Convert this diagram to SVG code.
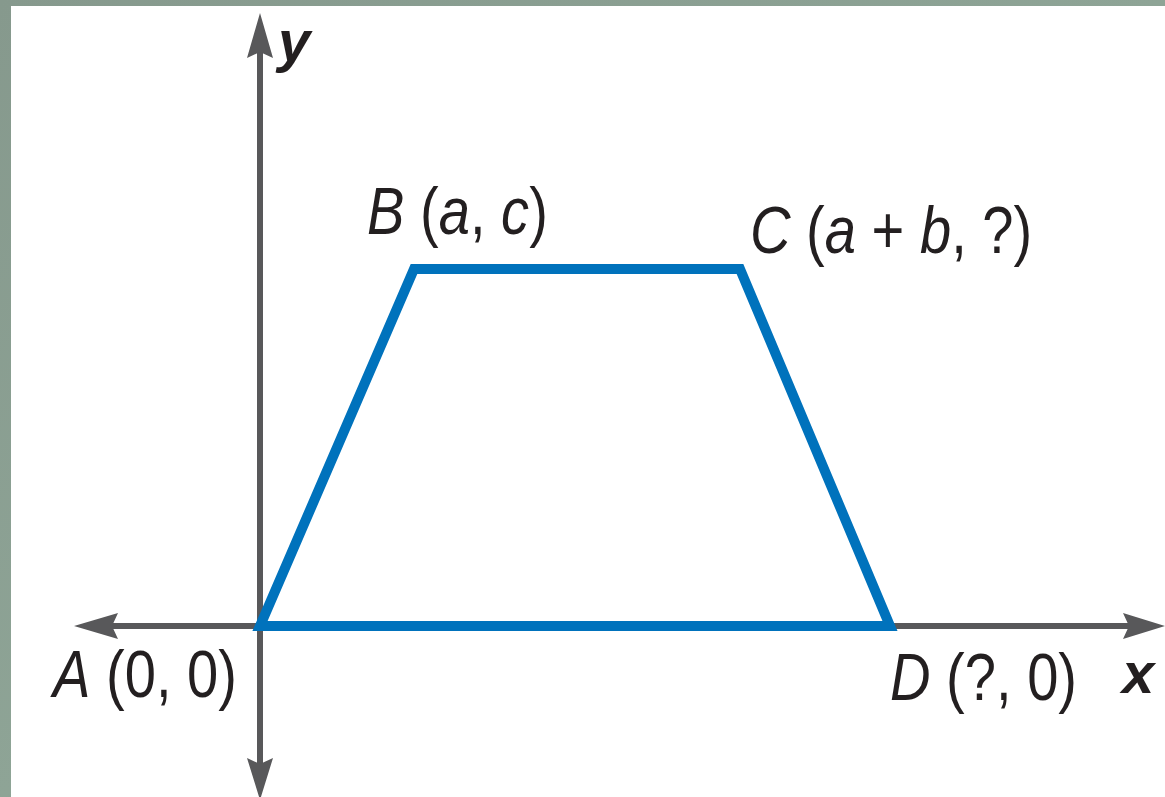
<svg xmlns="http://www.w3.org/2000/svg" width="1165" height="797" viewBox="0 0 1165 797">
<defs>
<linearGradient id="bg" x1="0" y1="0" x2="1" y2="1">
<stop offset="0" stop-color="#86998d"/>
<stop offset="0.5" stop-color="#8ea496"/>
<stop offset="1" stop-color="#5b6e60"/>
</linearGradient>
<style>
.axis{stroke:#58585a;stroke-width:6;fill:none}
.head{fill:#58585a}
.trap{stroke:#0072bc;stroke-width:10;fill:none;stroke-linejoin:miter}
.lbl{font-family:"Liberation Sans",Arial,sans-serif;font-size:66px;fill:#231f20}
.it{font-style:italic}
.ax{font-family:"Liberation Sans",Arial,sans-serif;font-size:58px;font-style:italic;font-weight:bold;fill:#231f20}
</style>
</defs>
<rect x="0" y="0" width="1165" height="797" fill="url(#bg)"/>
<rect x="11" y="6" width="1154" height="791" fill="#ffffff"/>
<g id="axes">
<line class="axis" x1="260" y1="40" x2="260" y2="775"/>
<line class="axis" x1="100" y1="626" x2="1140" y2="626"/>
<path class="head" d="M260,13 L273,58 L260,52 L247,58 Z"/>
<path class="head" d="M260,800 L273,758 L260,764 L247,758 Z"/>
<path class="head" d="M74,626 L118,613 L112,626 L118,639 Z"/>
<path class="head" d="M1165,626 L1123,613 L1129,626 L1123,639 Z"/>
</g>
<g id="trapezoid">
<polygon class="trap" points="260,626 414,269 740,269 890,626"/>
</g>
<g id="labels">
<text class="ax" x="278" y="61">y</text>
<text class="ax" x="1122" y="693">x</text>
<text class="lbl" transform="translate(53,697) scale(0.85,1)"><tspan class="it">A</tspan> (0, 0)</text>
<text class="lbl" transform="translate(367,234) scale(0.85,1)"><tspan class="it">B</tspan> (<tspan class="it">a</tspan>, <tspan class="it">c</tspan>)</text>
<text class="lbl" transform="translate(750,253) scale(0.85,1)"><tspan class="it">C</tspan> (<tspan class="it">a</tspan> + <tspan class="it">b</tspan>, ?)</text>
<text class="lbl" transform="translate(890,700) scale(0.85,1)"><tspan class="it">D</tspan> (?, 0)</text>
</g>
</svg>
